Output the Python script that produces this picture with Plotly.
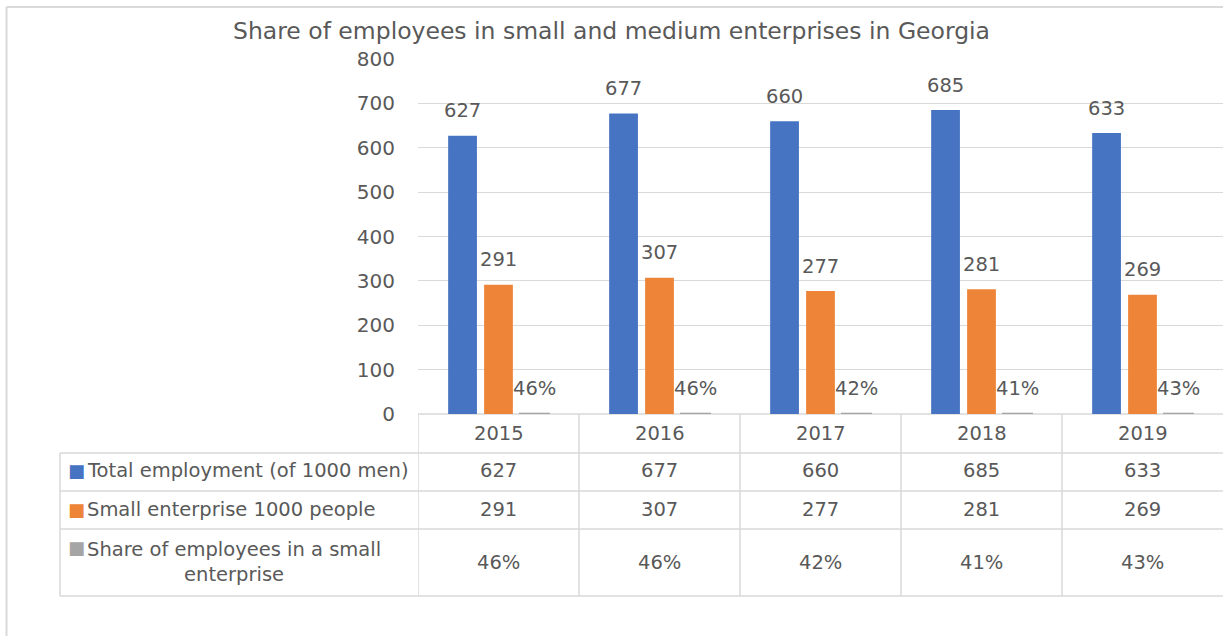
import plotly.graph_objects as go

# ---------------- data ----------------
years = ["2015", "2016", "2017", "2018", "2019"]
total_employment = [627, 677, 660, 685, 633]
small_enterprise = [291, 307, 277, 281, 269]
share_small = [0.46, 0.46, 0.42, 0.41, 0.43]

series_names = [
    "Total employment (of 1000 men)",
    "Small enterprise 1000 people",
    "Share of employees in a small<br>enterprise",
]
title_text = "Share of employees in small and medium enterprises in Georgia"
y_ticks = [0, 100, 200, 300, 400, 500, 600, 700, 800]

# ---------------- style ----------------
W, H = 1223, 636
L, R, T, B = 418, 0, 59, 222
PLOT_H = H - T - B
PLOT_W = W - L - R
FONT = "DejaVu Sans"
TXT = "#595959"
GRID = "#d9d9d9"
colors = ["#4674c2", "#ee8438", "#a5a5a5"]
BARGAP, GROUPGAP = 0.33, 0.2
slot = (1 - BARGAP) / 3
offsets = [-slot, 0.0, slot]
FS = 19.5

xs = list(range(len(years)))


def fmt_num(v):
    return f"{v:d}"


def fmt_pct(v):
    return f"{round(v * 100):d}%"


series_vals = [total_employment, small_enterprise, share_small]
series_fmt = [fmt_num, fmt_num, fmt_pct]

fig = go.Figure()
for name, vals, col in zip(["Total", "Small", "Share"], series_vals, colors):
    fig.add_trace(go.Bar(
        x=xs, y=vals, name=name, marker_color=col,
        marker_line=dict(color=col, width=2.2 if name == "Share" else 0),
        showlegend=False, hoverinfo="skip",
    ))

annotations = []
# data labels above bars
for k, (vals, f) in enumerate(zip(series_vals, series_fmt)):
    for i, v in enumerate(vals):
        annotations.append(dict(
            x=xs[i] + offsets[k], y=v, xref="x", yref="y",
            text=f(v), showarrow=False, yanchor="middle", yshift=25,
            font=dict(family=FONT, size=FS, color=TXT),
        ))


def py(pix):
    """pixel row (from top of page) -> paper y"""
    return (H - B - pix) / PLOT_H


def px(pix):
    return (pix - L) / PLOT_W


# table geometry (pixel rows)
row_lines = [453, 491, 529, 596]
header_c = 433
row_centers = [470, 509, 562]

# header years
for i, yv in enumerate(years):
    annotations.append(dict(
        x=xs[i], y=py(header_c), xref="x", yref="paper", text=yv,
        showarrow=False, yanchor="middle",
        font=dict(family=FONT, size=FS, color=TXT),
    ))
# cell values
for r, (vals, f) in enumerate(zip(series_vals, series_fmt)):
    for i, v in enumerate(vals):
        annotations.append(dict(
            x=xs[i], y=py(row_centers[r]), xref="x", yref="paper", text=f(v),
            showarrow=False, yanchor="middle",
            font=dict(family=FONT, size=FS, color=TXT),
        ))
# row labels with legend keys
key_rows = [470, 509, 547]
for r, name in enumerate(series_names):
    annotations.append(dict(
        x=px(66), y=py(key_rows[r]), xref="paper", yref="paper", text="■",
        showarrow=False, xanchor="left", yanchor="middle",
        font=dict(family=FONT, size=18, color=colors[r]),
    ))
    annotations.append(dict(
        x=px(85), y=py(row_centers[r]), xref="paper", yref="paper", text=name,
        showarrow=False, xanchor="left", yanchor="middle", align="center",
        font=dict(family=FONT, size=FS, color=TXT),
    ))

shapes = []
lw = 1.5
# horizontal table lines
for yp in row_lines:
    shapes.append(dict(type="line", xref="paper", yref="paper", layer="below",
                       x0=px(60), x1=1.0, y0=py(yp), y1=py(yp),
                       line=dict(color=GRID, width=lw)))
# top of table / axis baseline
shapes.append(dict(type="line", xref="paper", yref="paper", layer="below",
                   x0=0, x1=1.0, y0=0, y1=0, line=dict(color=GRID, width=lw)))
# vertical lines between categories (right edge falls outside the view)
for i in range(len(years)):
    shapes.append(dict(type="line", xref="x", yref="paper", layer="below",
                       x0=i - 0.5, x1=i - 0.5, y0=0, y1=py(row_lines[-1]),
                       line=dict(color=GRID, width=lw)))
# left edge of table
shapes.append(dict(type="line", xref="paper", yref="paper", layer="below",
                   x0=px(60), x1=px(60), y0=py(row_lines[0]), y1=py(row_lines[-1]),
                   line=dict(color=GRID, width=lw)))
# outer chart border (left and top)
shapes.append(dict(type="line", xref="paper", yref="paper", layer="below",
                   x0=px(6.5), x1=px(6.5), y0=py(7), y1=py(H + 5),
                   line=dict(color=GRID, width=2)))
shapes.append(dict(type="line", xref="paper", yref="paper", layer="below",
                   x0=px(6.5), x1=1.05, y0=py(7), y1=py(7),
                   line=dict(color=GRID, width=2)))

fig.update_layout(
    width=W, height=H,
    margin=dict(l=L, r=R, t=T, b=B, pad=0),
    paper_bgcolor="white", plot_bgcolor="white",
    barmode="group", bargap=BARGAP, bargroupgap=GROUPGAP,
    title=dict(text=title_text, x=0.5, xanchor="center",
               y=1 - 31 / H, yanchor="middle", yref="container",
               font=dict(family=FONT, size=23.5, color=TXT)),
    xaxis=dict(range=[-0.5, len(years) - 0.5], showticklabels=False,
               showgrid=False, zeroline=False, showline=False, ticks=""),
    yaxis=dict(range=[0, 800], tickvals=y_ticks, showgrid=True,
               gridcolor=GRID, gridwidth=1, zeroline=False, showline=False,
               ticks="", ticklabelstandoff=22,
               tickfont=dict(family=FONT, size=20, color=TXT)),
    annotations=annotations, shapes=shapes,
    font=dict(family=FONT, color=TXT),
)

fig.write_html("out.html", config={"displayModeBar": False},
               post_script="document.body.style.margin='0px';document.body.style.padding='0px';")
